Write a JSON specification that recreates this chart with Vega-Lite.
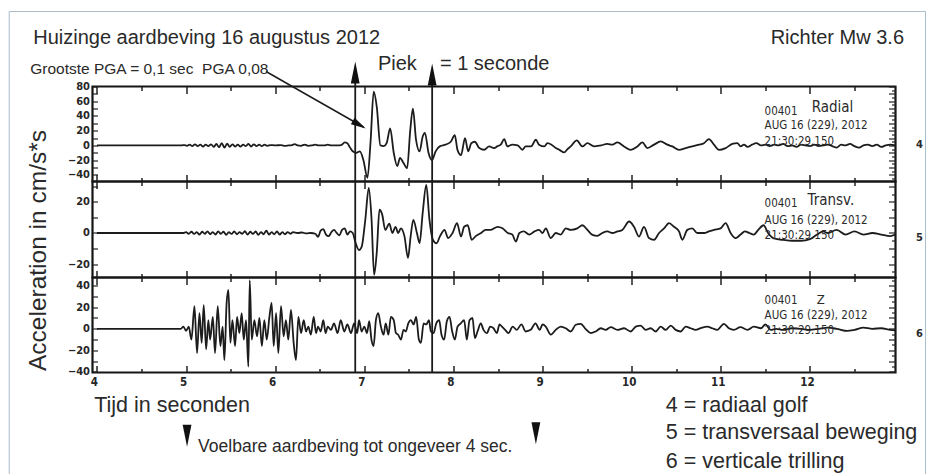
{
"$schema": "https://vega.github.io/schema/vega-lite/v6.json",
"padding": {"left": 7.5, "top": 9.5, "right": 0, "bottom": 0},
"background": "white",
"spacing": 0,
"bounds": "flush",
"config": {"view": {"stroke": "#151515", "strokeWidth": 2.2}, "font": "Liberation Sans, Arial, sans-serif"},
"datasets": {
"rad": [{"t":4.0,"v":0},{"t":4.95,"v":0},{"t":4.98,"v":0.5},{"t":5.01,"v":-0.5},{"t":5.04,"v":1},{"t":5.07,"v":-1},{"t":5.10,"v":1.5},{"t":5.13,"v":-1},{"t":5.16,"v":1},{"t":5.19,"v":-1.5},{"t":5.22,"v":1},{"t":5.25,"v":-1},{"t":5.28,"v":1.5},{"t":5.31,"v":-2},{"t":5.34,"v":2},{"t":5.37,"v":-2.5},{"t":5.40,"v":3},{"t":5.43,"v":-3},{"t":5.46,"v":2.5},{"t":5.49,"v":-2},{"t":5.52,"v":1.5},{"t":5.55,"v":-1.5},{"t":5.58,"v":1},{"t":5.61,"v":-1.5},{"t":5.64,"v":1},{"t":5.67,"v":-1},{"t":5.70,"v":2},{"t":5.73,"v":-1.5},{"t":5.76,"v":1.5},{"t":5.79,"v":-1},{"t":5.82,"v":1},{"t":5.85,"v":-1},{"t":5.88,"v":1},{"t":5.91,"v":-0.5},{"t":5.95,"v":0.5},{"t":6.0,"v":0},{"t":6.06,"v":0.5},{"t":6.10,"v":-0.5},{"t":6.15,"v":0},{"t":6.19,"v":0.5},{"t":6.22,"v":1.8},{"t":6.25,"v":0},{"t":6.29,"v":-0.5},{"t":6.33,"v":1.2},{"t":6.37,"v":-0.5},{"t":6.41,"v":0},{"t":6.45,"v":1},{"t":6.49,"v":0},{"t":6.55,"v":0},{"t":6.59,"v":1},{"t":6.63,"v":0},{"t":6.70,"v":0},{"t":6.74,"v":0.5},{"t":6.78,"v":4},{"t":6.81,"v":3},{"t":6.84,"v":-3},{"t":6.87,"v":-8},{"t":6.91,"v":-10},{"t":6.95,"v":-8},{"t":6.99,"v":-20},{"t":7.035,"v":-44},{"t":7.07,"v":5},{"t":7.105,"v":73},{"t":7.14,"v":52},{"t":7.18,"v":0},{"t":7.22,"v":-1},{"t":7.25,"v":3},{"t":7.29,"v":23},{"t":7.33,"v":-10},{"t":7.37,"v":-28},{"t":7.40,"v":-17},{"t":7.44,"v":-24},{"t":7.48,"v":-31},{"t":7.515,"v":20},{"t":7.545,"v":50},{"t":7.58,"v":8},{"t":7.62,"v":-8},{"t":7.655,"v":12},{"t":7.68,"v":17},{"t":7.72,"v":-10},{"t":7.76,"v":-20},{"t":7.80,"v":-8},{"t":7.85,"v":-1},{"t":7.91,"v":1},{"t":7.97,"v":5},{"t":8.015,"v":14},{"t":8.045,"v":-6},{"t":8.085,"v":-13},{"t":8.13,"v":10},{"t":8.165,"v":-8},{"t":8.20,"v":3},{"t":8.24,"v":5},{"t":8.29,"v":-3.6},{"t":8.345,"v":-5.9},{"t":8.40,"v":-1.4},{"t":8.455,"v":-3.6},{"t":8.495,"v":-1},{"t":8.53,"v":1},{"t":8.57,"v":8.6},{"t":8.605,"v":-1.4},{"t":8.66,"v":1},{"t":8.72,"v":0},{"t":8.775,"v":-5.9},{"t":8.81,"v":-1.4},{"t":8.87,"v":-1.4},{"t":8.925,"v":7.7},{"t":8.96,"v":1},{"t":9.02,"v":-1.4},{"t":9.055,"v":3},{"t":9.10,"v":1},{"t":9.148,"v":-3.6},{"t":9.19,"v":-6},{"t":9.242,"v":-9.5},{"t":9.28,"v":-5},{"t":9.316,"v":-1.4},{"t":9.384,"v":6.8},{"t":9.447,"v":-1.4},{"t":9.503,"v":3},{"t":9.578,"v":-1.4},{"t":9.653,"v":0},{"t":9.727,"v":2},{"t":9.783,"v":1},{"t":9.84,"v":4},{"t":9.914,"v":-1.4},{"t":9.989,"v":-6},{"t":10.064,"v":-1.4},{"t":10.12,"v":4},{"t":10.176,"v":-3.6},{"t":10.251,"v":1},{"t":10.325,"v":5.4},{"t":10.40,"v":1},{"t":10.456,"v":-1.4},{"t":10.531,"v":-6},{"t":10.606,"v":-3.6},{"t":10.68,"v":-1.4},{"t":10.755,"v":1},{"t":10.811,"v":3},{"t":10.867,"v":8.6},{"t":10.923,"v":1},{"t":10.979,"v":-6},{"t":11.054,"v":-3.6},{"t":11.129,"v":2},{"t":11.185,"v":3},{"t":11.222,"v":-1.4},{"t":11.26,"v":1},{"t":11.3,"v":-2},{"t":11.35,"v":1},{"t":11.4,"v":3},{"t":11.45,"v":0},{"t":11.5,"v":1},{"t":11.55,"v":-1},{"t":11.6,"v":1},{"t":11.65,"v":0},{"t":11.7,"v":2},{"t":11.75,"v":-1},{"t":11.8,"v":0},{"t":11.85,"v":-2},{"t":11.9,"v":1},{"t":11.95,"v":0},{"t":12.0,"v":-1},{"t":12.05,"v":1},{"t":12.1,"v":-1},{"t":12.15,"v":0},{"t":12.2,"v":1},{"t":12.25,"v":-1},{"t":12.3,"v":-3},{"t":12.35,"v":1},{"t":12.4,"v":0},{"t":12.45,"v":2},{"t":12.5,"v":-1},{"t":12.55,"v":-3},{"t":12.6,"v":0},{"t":12.65,"v":1},{"t":12.7,"v":-1},{"t":12.75,"v":1},{"t":12.8,"v":-2},{"t":12.85,"v":0},{"t":12.9,"v":1},{"t":12.96,"v":0}],
"tra": [{"t":4,"v":0},{"t":4.97,"v":0},{"t":5.0,"v":0.5},{"t":5.03,"v":-0.5},{"t":5.06,"v":0.8},{"t":5.09,"v":-0.6},{"t":5.12,"v":0.5},{"t":5.15,"v":-1},{"t":5.18,"v":0.8},{"t":5.21,"v":-0.5},{"t":5.24,"v":1},{"t":5.27,"v":-0.8},{"t":5.30,"v":0.6},{"t":5.33,"v":-1},{"t":5.36,"v":1},{"t":5.39,"v":-0.5},{"t":5.42,"v":0.8},{"t":5.45,"v":-1.2},{"t":5.48,"v":0.5},{"t":5.51,"v":-0.6},{"t":5.54,"v":1},{"t":5.57,"v":-0.8},{"t":5.60,"v":0.5},{"t":5.63,"v":-0.5},{"t":5.66,"v":1.2},{"t":5.69,"v":-1},{"t":5.72,"v":0.8},{"t":5.75,"v":-0.6},{"t":5.78,"v":1},{"t":5.81,"v":-1.2},{"t":5.84,"v":0.6},{"t":5.87,"v":-0.8},{"t":5.90,"v":1.5},{"t":5.93,"v":-1},{"t":5.96,"v":0.5},{"t":5.99,"v":-0.8},{"t":6.02,"v":1},{"t":6.05,"v":-1},{"t":6.08,"v":0.5},{"t":6.11,"v":-0.8},{"t":6.14,"v":0.6},{"t":6.17,"v":-0.5},{"t":6.20,"v":0.5},{"t":6.25,"v":0},{"t":6.30,"v":0.3},{"t":6.35,"v":-0.3},{"t":6.40,"v":0},{"t":6.45,"v":-0.5},{"t":6.48,"v":-2.5},{"t":6.51,"v":1.5},{"t":6.54,"v":2.5},{"t":6.57,"v":-1},{"t":6.60,"v":-2},{"t":6.63,"v":0.5},{"t":6.66,"v":2},{"t":6.69,"v":0},{"t":6.72,"v":-1.5},{"t":6.75,"v":2},{"t":6.78,"v":3},{"t":6.81,"v":-1},{"t":6.84,"v":1},{"t":6.87,"v":0},{"t":6.90,"v":-6},{"t":6.94,"v":-11},{"t":6.97,"v":-9},{"t":7.01,"v":8},{"t":7.05,"v":29},{"t":7.08,"v":10},{"t":7.11,"v":-27},{"t":7.14,"v":-12},{"t":7.17,"v":15},{"t":7.20,"v":12},{"t":7.235,"v":2},{"t":7.28,"v":6},{"t":7.315,"v":0},{"t":7.35,"v":4},{"t":7.38,"v":0},{"t":7.41,"v":3},{"t":7.45,"v":-2},{"t":7.49,"v":-16},{"t":7.52,"v":-2},{"t":7.55,"v":8.5},{"t":7.59,"v":0},{"t":7.62,"v":-6.5},{"t":7.655,"v":13},{"t":7.695,"v":31},{"t":7.73,"v":9},{"t":7.77,"v":-4.4},{"t":7.81,"v":-6.6},{"t":7.85,"v":-2},{"t":7.90,"v":2},{"t":7.94,"v":-3.3},{"t":7.99,"v":0},{"t":8.04,"v":6.3},{"t":8.085,"v":-2.3},{"t":8.12,"v":4},{"t":8.16,"v":5},{"t":8.205,"v":-4.4},{"t":8.25,"v":-2},{"t":8.31,"v":0},{"t":8.36,"v":2},{"t":8.42,"v":2},{"t":8.495,"v":4},{"t":8.55,"v":3},{"t":8.61,"v":0},{"t":8.66,"v":-1},{"t":8.70,"v":-5.5},{"t":8.74,"v":0},{"t":8.79,"v":1},{"t":8.85,"v":-1},{"t":8.91,"v":1},{"t":8.96,"v":2},{"t":9.0,"v":0},{"t":9.036,"v":3},{"t":9.092,"v":-3.3},{"t":9.148,"v":0},{"t":9.204,"v":-1},{"t":9.26,"v":3},{"t":9.316,"v":2},{"t":9.39,"v":3},{"t":9.447,"v":5},{"t":9.503,"v":2},{"t":9.56,"v":-1.2},{"t":9.615,"v":-1.8},{"t":9.67,"v":0},{"t":9.727,"v":1},{"t":9.783,"v":0},{"t":9.84,"v":1},{"t":9.895,"v":2},{"t":9.97,"v":7.4},{"t":10.026,"v":4},{"t":10.082,"v":-2.3},{"t":10.138,"v":4},{"t":10.194,"v":-3.3},{"t":10.251,"v":-4.4},{"t":10.307,"v":0},{"t":10.363,"v":3},{"t":10.419,"v":6.3},{"t":10.475,"v":4},{"t":10.531,"v":1},{"t":10.568,"v":-4.4},{"t":10.624,"v":2},{"t":10.68,"v":3},{"t":10.736,"v":0},{"t":10.811,"v":0},{"t":10.867,"v":1},{"t":10.923,"v":2},{"t":10.998,"v":3},{"t":11.054,"v":6.3},{"t":11.11,"v":0},{"t":11.166,"v":-3.3},{"t":11.222,"v":-1},{"t":11.27,"v":1},{"t":11.32,"v":0},{"t":11.37,"v":-1},{"t":11.42,"v":2},{"t":11.48,"v":5},{"t":11.53,"v":0},{"t":11.58,"v":-3},{"t":11.63,"v":-4},{"t":11.7,"v":-4.5},{"t":11.8,"v":-5},{"t":11.9,"v":-5},{"t":12.0,"v":-4},{"t":12.08,"v":-1},{"t":12.15,"v":1},{"t":12.2,"v":0},{"t":12.3,"v":2},{"t":12.4,"v":-1},{"t":12.5,"v":1},{"t":12.6,"v":-1},{"t":12.7,"v":0},{"t":12.8,"v":-1},{"t":12.9,"v":-2},{"t":12.96,"v":-1}],
"zz": [{"t":4,"v":0},{"t":4.94,"v":0},{"t":4.97,"v":2},{"t":5.00,"v":-2},{"t":5.03,"v":2},{"t":5.06,"v":-10},{"t":5.094,"v":21},{"t":5.123,"v":-22.5},{"t":5.15,"v":14.5},{"t":5.175,"v":-13},{"t":5.198,"v":22},{"t":5.225,"v":-19},{"t":5.25,"v":8},{"t":5.27,"v":-10},{"t":5.30,"v":11},{"t":5.325,"v":-22.5},{"t":5.355,"v":21},{"t":5.385,"v":-16},{"t":5.41,"v":2},{"t":5.43,"v":-29},{"t":5.455,"v":24},{"t":5.475,"v":36},{"t":5.497,"v":-13},{"t":5.52,"v":8},{"t":5.55,"v":-16},{"t":5.572,"v":11},{"t":5.598,"v":-4},{"t":5.624,"v":14.5},{"t":5.647,"v":-10},{"t":5.673,"v":8},{"t":5.699,"v":-35},{"t":5.714,"v":45},{"t":5.737,"v":-10},{"t":5.766,"v":8},{"t":5.796,"v":-7},{"t":5.823,"v":10},{"t":5.85,"v":-16},{"t":5.878,"v":8},{"t":5.905,"v":-10},{"t":5.935,"v":11},{"t":5.96,"v":24},{"t":5.983,"v":-16},{"t":6.01,"v":14.5},{"t":6.035,"v":-22.5},{"t":6.065,"v":21},{"t":6.095,"v":-7},{"t":6.12,"v":8},{"t":6.147,"v":-10},{"t":6.177,"v":17.6},{"t":6.207,"v":-13},{"t":6.233,"v":-29},{"t":6.26,"v":11},{"t":6.29,"v":-4},{"t":6.32,"v":8},{"t":6.346,"v":-2.5},{"t":6.372,"v":2},{"t":6.40,"v":-5.5},{"t":6.432,"v":11},{"t":6.458,"v":-4},{"t":6.48,"v":2},{"t":6.51,"v":-2.5},{"t":6.54,"v":8},{"t":6.565,"v":-4},{"t":6.59,"v":2},{"t":6.625,"v":-1},{"t":6.66,"v":5},{"t":6.70,"v":-4},{"t":6.735,"v":8},{"t":6.775,"v":-2.5},{"t":6.81,"v":4},{"t":6.85,"v":-4},{"t":6.885,"v":5},{"t":6.92,"v":-4},{"t":6.94,"v":8},{"t":6.97,"v":-2.5},{"t":7.00,"v":2},{"t":7.03,"v":-4},{"t":7.055,"v":7},{"t":7.08,"v":-10},{"t":7.104,"v":-16},{"t":7.13,"v":8},{"t":7.156,"v":14.5},{"t":7.186,"v":2},{"t":7.216,"v":-5.5},{"t":7.24,"v":5},{"t":7.27,"v":-5.5},{"t":7.298,"v":11},{"t":7.33,"v":8},{"t":7.355,"v":-4},{"t":7.38,"v":-5.5},{"t":7.41,"v":-10},{"t":7.44,"v":-1},{"t":7.466,"v":-2.5},{"t":7.493,"v":5},{"t":7.523,"v":8},{"t":7.553,"v":4},{"t":7.582,"v":11},{"t":7.612,"v":-10},{"t":7.635,"v":-13},{"t":7.665,"v":5},{"t":7.695,"v":4},{"t":7.725,"v":8},{"t":7.747,"v":-2.5},{"t":7.777,"v":-4},{"t":7.807,"v":5},{"t":7.84,"v":8},{"t":7.866,"v":-5.5},{"t":7.896,"v":-10},{"t":7.926,"v":7},{"t":7.956,"v":11},{"t":7.986,"v":-2.5},{"t":8.016,"v":-10},{"t":8.046,"v":2},{"t":8.083,"v":5},{"t":8.12,"v":8},{"t":8.15,"v":-10},{"t":8.18,"v":8},{"t":8.214,"v":10},{"t":8.24,"v":-8.6},{"t":8.27,"v":-2.5},{"t":8.307,"v":5},{"t":8.337,"v":-1},{"t":8.375,"v":-4},{"t":8.412,"v":2},{"t":8.45,"v":0.5},{"t":8.487,"v":-4},{"t":8.517,"v":4},{"t":8.544,"v":2},{"t":8.58,"v":-1},{"t":8.617,"v":-4},{"t":8.665,"v":2},{"t":8.71,"v":-1},{"t":8.763,"v":4},{"t":8.81,"v":-2.5},{"t":8.866,"v":-1},{"t":8.92,"v":5},{"t":8.968,"v":-1},{"t":9.0,"v":4},{"t":9.036,"v":2},{"t":9.092,"v":-5.5},{"t":9.148,"v":-1},{"t":9.204,"v":2},{"t":9.26,"v":0.5},{"t":9.316,"v":-2.5},{"t":9.372,"v":3.7},{"t":9.428,"v":4.6},{"t":9.484,"v":-0.3},{"t":9.54,"v":-4},{"t":9.596,"v":-2.5},{"t":9.653,"v":0.5},{"t":9.708,"v":-1},{"t":9.765,"v":1.5},{"t":9.84,"v":-1},{"t":9.914,"v":0.5},{"t":9.989,"v":-2.5},{"t":10.045,"v":2},{"t":10.101,"v":3},{"t":10.157,"v":-1},{"t":10.213,"v":0.5},{"t":10.27,"v":-2.5},{"t":10.325,"v":2},{"t":10.381,"v":-1},{"t":10.438,"v":3},{"t":10.494,"v":-1},{"t":10.55,"v":-2.5},{"t":10.606,"v":2},{"t":10.662,"v":0.5},{"t":10.718,"v":-1},{"t":10.774,"v":0.5},{"t":10.848,"v":2},{"t":10.904,"v":0.5},{"t":10.96,"v":-1},{"t":11.035,"v":4.6},{"t":11.09,"v":0.5},{"t":11.147,"v":-1},{"t":11.22,"v":1.5},{"t":11.3,"v":-1},{"t":11.37,"v":2},{"t":11.45,"v":0.5},{"t":11.5,"v":4},{"t":11.56,"v":-1},{"t":11.62,"v":0},{"t":11.7,"v":-1},{"t":11.8,"v":0.5},{"t":11.9,"v":0},{"t":12.0,"v":-1},{"t":12.1,"v":0},{"t":12.2,"v":1},{"t":12.3,"v":0},{"t":12.42,"v":-2},{"t":12.5,"v":-1},{"t":12.6,"v":1},{"t":12.7,"v":0},{"t":12.8,"v":0.5},{"t":12.9,"v":-1},{"t":12.96,"v":-1.5}],
"vlines": [{"t":6.898},{"t":7.761}]
},
"vconcat": [
{
"width": 803, "height": 95,
"resolve": {"axis": {"x": "independent", "y": "independent"}},
"layer": [
{"data": {"name": "rad"}, "mark": {"type": "line", "color": "#1c1c1c", "strokeWidth": 1.8, "strokeJoin": "round", "interpolate": "monotone"},
 "encoding": {
  "x": {"field": "t", "type": "quantitative", "scale": {"domain": [3.95, 12.96], "nice": false, "zero": false},
        "axis": {"orient": "top", "values": [4,4.5,5,5.5,6,6.5,7,7.5,8,8.5,9,9.5,10,10.5,11,11.5,12,12.5], "labels": false, "domain": false, "grid": false, "title": null, "tickColor": "#222", "tickWidth": 1.5, "tickSize": {"condition": {"test": "datum.value % 1 === 0", "value": -7}, "value": -4}}},
  "y": {"field": "v", "type": "quantitative", "scale": {"domain": [-49, 80], "nice": false, "zero": false},
        "axis": {"orient": "left", "values": [-40,-20,0,20,40,60,80], "ticks": false, "domain": false, "grid": false, "title": null, "labelPadding": 3, "labelFontSize": 11, "labelOverlap": false, "labelFlush": false, "labelFont": "DejaVu Sans Condensed, Liberation Sans Narrow, Liberation Sans, sans-serif", "labelFontWeight": "bold", "labelColor": "#262626"}}
 }},
{"data": {"name": "rad"}, "mark": {"type": "line", "opacity": 0},
 "encoding": {
  "x": {"field": "t", "type": "quantitative", "scale": {"domain": [3.95, 12.96], "nice": false, "zero": false},
        "axis": {"orient": "bottom", "values": [4,4.5,5,5.5,6,6.5,7,7.5,8,8.5,9,9.5,10,10.5,11,11.5,12,12.5], "labels": false, "domain": false, "grid": false, "title": null, "tickColor": "#222", "tickWidth": 1.5, "tickSize": {"condition": {"test": "datum.value % 1 === 0", "value": -7}, "value": -4}}},
  "y": {"field": "v", "type": "quantitative", "scale": {"domain": [-49, 80], "nice": false, "zero": false},
        "axis": {"orient": "right", "values": [-45,-40,-35,-30,-25,-20,-15,-10,-5,0,5,10,15,20,25,30,35,40,45,50,55,60,65,70,75,80], "labels": false, "domain": false, "grid": false, "title": null, "tickColor": "#222", "tickWidth": 1.2, "tickSize": {"condition": {"test": "datum.value % 10 === 0", "value": -7}, "value": -4}}}
 }},
{"data": {"name": "rad"}, "mark": {"type": "line", "opacity": 0},
 "encoding": {
  "x": {"field": "t", "type": "quantitative", "scale": {"domain": [3.95, 12.96], "nice": false, "zero": false}, "axis": null},
  "y": {"field": "v", "type": "quantitative", "scale": {"domain": [-49, 80], "nice": false, "zero": false},
        "axis": {"orient": "left", "values": [-40,-30,-20,-10,0,10,20,30,40,50,60,70,80], "labels": false, "domain": false, "grid": false, "title": null, "tickColor": "#222", "tickWidth": 1.2, "tickSize": -5}}
 }},
{"data": {"name": "vlines"}, "mark": {"type": "rule", "color": "#1c1c1c", "strokeWidth": 1.8},
 "encoding": {
  "x": {"field": "t", "type": "quantitative", "scale": {"domain": [3.95, 12.96], "nice": false, "zero": false}, "axis": null},
  "y": {"datum": -49, "type": "quantitative", "scale": {"domain": [-49, 80], "nice": false, "zero": false}, "axis": null},
  "y2": {"datum": 100}
 }},
{"data": {"values": [{"t": 6.898, "v": 99.0}, {"t": 7.761, "v": 96.3}]},
 "mark": {"type": "point", "shape": "M0,-1L0.4,1L-0.4,1Z", "size": 484, "filled": true, "color": "#111", "opacity": 1, "strokeWidth": 0},
 "encoding": {
  "x": {"field": "t", "type": "quantitative", "scale": {"domain": [3.95, 12.96], "nice": false, "zero": false}, "axis": null},
  "y": {"field": "v", "type": "quantitative", "scale": {"domain": [-49, 80], "nice": false, "zero": false}, "axis": null}
 }},
{"data": {"values": [{"t": 5.897, "v": 100.4, "t2": 6.99, "v2": 25}]},
 "mark": {"type": "rule", "color": "#1c1c1c", "strokeWidth": 1.5},
 "encoding": {
  "x": {"field": "t", "type": "quantitative", "scale": {"domain": [3.95, 12.96], "nice": false, "zero": false}, "axis": null},
  "x2": {"field": "t2"},
  "y": {"field": "v", "type": "quantitative", "scale": {"domain": [-49, 80], "nice": false, "zero": false}, "axis": null},
  "y2": {"field": "v2"}
 }},
{"data": {"values": [{"t": 6.943, "v": 28.0}]},
 "mark": {"type": "point", "shape": "M1,0L-1,-0.5L-1,0.5Z", "size": 225, "angle": 29.7, "filled": true, "color": "#111", "opacity": 1, "strokeWidth": 0},
 "encoding": {
  "x": {"field": "t", "type": "quantitative", "scale": {"domain": [3.95, 12.96], "nice": false, "zero": false}, "axis": null},
  "y": {"field": "v", "type": "quantitative", "scale": {"domain": [-49, 80], "nice": false, "zero": false}, "axis": null}
 }},
{"data": {"values": [{"t": 3.285, "v": 146.5, "s": "Huizinge aardbeving 16 augustus 2012"}, {"t": 11.559, "v": 146.5, "s": "Richter Mw 3.6"}, {"t": 7.153, "v": 111.2, "s": "Piek"}, {"t": 7.848, "v": 111.2, "s": "= 1 seconde"}]},
 "mark": {"type": "text", "align": "left", "baseline": "middle", "fontSize": 20, "color": "#2a2a2a", "font": "Liberation Sans, Arial, sans-serif"},
 "encoding": {
  "x": {"field": "t", "type": "quantitative", "scale": {"domain": [3.95, 12.96], "nice": false, "zero": false}, "axis": null},
  "y": {"field": "v", "type": "quantitative", "scale": {"domain": [-49, 80], "nice": false, "zero": false}, "axis": null},
  "text": {"field": "s"}
 }},
{"data": {"values": [{"t": 3.251, "v": 104.4, "s": "Grootste PGA = 0,1 sec\u00a0 PGA 0,08"}]},
 "mark": {"type": "text", "align": "left", "baseline": "middle", "fontSize": 15.5, "color": "#2a2a2a", "font": "Liberation Sans, Arial, sans-serif"},
 "encoding": {
  "x": {"field": "t", "type": "quantitative", "scale": {"domain": [3.95, 12.96], "nice": false, "zero": false}, "axis": null},
  "y": {"field": "v", "type": "quantitative", "scale": {"domain": [-49, 80], "nice": false, "zero": false}, "axis": null},
  "text": {"field": "s"}
 }},
{"data": {"values": [{"t": 11.491, "v": 46.0, "s": "00401"}, {"t": 11.491, "v": 25.7, "s": "AUG 16 (229), 2012"}, {"t": 11.491, "v": 5.3, "s": "21:30:29.150"}]},
 "mark": {"type": "text", "align": "left", "baseline": "middle", "fontSize": 11.5, "color": "#2a2a2a", "font": "DejaVu Sans Condensed, Liberation Sans Narrow, Liberation Sans, sans-serif"},
 "encoding": {
  "x": {"field": "t", "type": "quantitative", "scale": {"domain": [3.95, 12.96], "nice": false, "zero": false}, "axis": null},
  "y": {"field": "v", "type": "quantitative", "scale": {"domain": [-49, 80], "nice": false, "zero": false}, "axis": null},
  "text": {"field": "s"}
 }},
{"data": {"values": [{"t": 12.019, "v": 51.5, "s": "Radial"}]},
 "mark": {"type": "text", "align": "left", "baseline": "middle", "fontSize": 15, "color": "#2a2a2a", "font": "DejaVu Sans Condensed, Liberation Sans Narrow, Liberation Sans, sans-serif"},
 "encoding": {
  "x": {"field": "t", "type": "quantitative", "scale": {"domain": [3.95, 12.96], "nice": false, "zero": false}, "axis": null},
  "y": {"field": "v", "type": "quantitative", "scale": {"domain": [-49, 80], "nice": false, "zero": false}, "axis": null},
  "text": {"field": "s"}
 }},
{"data": {"values": [{"t": 13.229, "v": 1.2, "s": "4"}]},
 "mark": {"type": "text", "align": "center", "baseline": "middle", "fontSize": 11, "fontWeight": "bold", "color": "#2a2a2a", "font": "DejaVu Sans Condensed, Liberation Sans Narrow, Liberation Sans, sans-serif"},
 "encoding": {
  "x": {"field": "t", "type": "quantitative", "scale": {"domain": [3.95, 12.96], "nice": false, "zero": false}, "axis": null},
  "y": {"field": "v", "type": "quantitative", "scale": {"domain": [-49, 80], "nice": false, "zero": false}, "axis": null},
  "text": {"field": "s"}
 }},
{"data": {"values": [{"t": 3.0156, "v": 181.8, "t2": 13.297, "v2": -456.4}]},
 "mark": {"type": "rect", "fillOpacity": 0, "stroke": "#a9bccb", "strokeWidth": 1},
 "encoding": {
  "x": {"field": "t", "type": "quantitative", "scale": {"domain": [3.95, 12.96], "nice": false, "zero": false}, "axis": null},
  "x2": {"field": "t2"},
  "y": {"field": "v", "type": "quantitative", "scale": {"domain": [-49, 80], "nice": false, "zero": false}, "axis": null},
  "y2": {"field": "v2"}
 }}
]
},
{
"width": 803, "height": 96,
"resolve": {"axis": {"x": "independent", "y": "independent"}},
"layer": [
{"data": {"name": "tra"}, "mark": {"type": "line", "color": "#1c1c1c", "strokeWidth": 1.8, "strokeJoin": "round", "interpolate": "monotone"},
 "encoding": {
  "x": {"field": "t", "type": "quantitative", "scale": {"domain": [3.95, 12.96], "nice": false, "zero": false},
        "axis": {"orient": "top", "values": [4,4.5,5,5.5,6,6.5,7,7.5,8,8.5,9,9.5,10,10.5,11,11.5,12,12.5], "labels": false, "domain": false, "grid": false, "title": null, "tickColor": "#222", "tickWidth": 1.5, "tickSize": {"condition": {"test": "datum.value % 1 === 0", "value": -7}, "value": -4}}},
  "y": {"field": "v", "type": "quantitative", "scale": {"domain": [-28.7, 33.2], "nice": false, "zero": false},
        "axis": {"orient": "left", "values": [-20,0,20], "ticks": false, "domain": false, "grid": false, "title": null, "labelPadding": 3, "labelFontSize": 11, "labelOverlap": false, "labelFlush": false, "labelFont": "DejaVu Sans Condensed, Liberation Sans Narrow, Liberation Sans, sans-serif", "labelFontWeight": "bold", "labelColor": "#262626"}}
 }},
{"data": {"name": "tra"}, "mark": {"type": "line", "opacity": 0},
 "encoding": {
  "x": {"field": "t", "type": "quantitative", "scale": {"domain": [3.95, 12.96], "nice": false, "zero": false},
        "axis": {"orient": "bottom", "values": [4,4.5,5,5.5,6,6.5,7,7.5,8,8.5,9,9.5,10,10.5,11,11.5,12,12.5], "labels": false, "domain": false, "grid": false, "title": null, "tickColor": "#222", "tickWidth": 1.5, "tickSize": {"condition": {"test": "datum.value % 1 === 0", "value": -7}, "value": -4}}},
  "y": {"field": "v", "type": "quantitative", "scale": {"domain": [-28.7, 33.2], "nice": false, "zero": false},
        "axis": {"orient": "right", "values": [-25,-20,-15,-10,-5,0,5,10,15,20,25,30], "labels": false, "domain": false, "grid": false, "title": null, "tickColor": "#222", "tickWidth": 1.2, "tickSize": {"condition": {"test": "datum.value % 10 === 0", "value": -7}, "value": -4}}}
 }},
{"data": {"name": "tra"}, "mark": {"type": "line", "opacity": 0},
 "encoding": {
  "x": {"field": "t", "type": "quantitative", "scale": {"domain": [3.95, 12.96], "nice": false, "zero": false}, "axis": null},
  "y": {"field": "v", "type": "quantitative", "scale": {"domain": [-28.7, 33.2], "nice": false, "zero": false},
        "axis": {"orient": "left", "values": [-20,-10,0,10,20,30], "labels": false, "domain": false, "grid": false, "title": null, "tickColor": "#222", "tickWidth": 1.2, "tickSize": -5}}
 }},
{"data": {"name": "vlines"}, "mark": {"type": "rule", "color": "#1c1c1c", "strokeWidth": 1.8},
 "encoding": {
  "x": {"field": "t", "type": "quantitative", "scale": {"domain": [3.95, 12.96], "nice": false, "zero": false}, "axis": null}
 }},
{"data": {"values": [{"t": 11.491, "v": 19.0, "s": "00401"}, {"t": 11.491, "v": 8.05, "s": "AUG 16 (229), 2012"}, {"t": 11.491, "v": -2.26, "s": "21:30:29.150"}]},
 "mark": {"type": "text", "align": "left", "baseline": "middle", "fontSize": 11.5, "color": "#2a2a2a", "font": "DejaVu Sans Condensed, Liberation Sans Narrow, Liberation Sans, sans-serif"},
 "encoding": {
  "x": {"field": "t", "type": "quantitative", "scale": {"domain": [3.95, 12.96], "nice": false, "zero": false}, "axis": null},
  "y": {"field": "v", "type": "quantitative", "scale": {"domain": [-28.7, 33.2], "nice": false, "zero": false}, "axis": null},
  "text": {"field": "s"}
 }},
{"data": {"values": [{"t": 11.974, "v": 20.95, "s": "Transv."}]},
 "mark": {"type": "text", "align": "left", "baseline": "middle", "fontSize": 15, "color": "#2a2a2a", "font": "DejaVu Sans Condensed, Liberation Sans Narrow, Liberation Sans, sans-serif"},
 "encoding": {
  "x": {"field": "t", "type": "quantitative", "scale": {"domain": [3.95, 12.96], "nice": false, "zero": false}, "axis": null},
  "y": {"field": "v", "type": "quantitative", "scale": {"domain": [-28.7, 33.2], "nice": false, "zero": false}, "axis": null},
  "text": {"field": "s"}
 }},
{"data": {"values": [{"t": 13.229, "v": -3.55, "s": "5"}]},
 "mark": {"type": "text", "align": "center", "baseline": "middle", "fontSize": 11, "fontWeight": "bold", "color": "#2a2a2a", "font": "DejaVu Sans Condensed, Liberation Sans Narrow, Liberation Sans, sans-serif"},
 "encoding": {
  "x": {"field": "t", "type": "quantitative", "scale": {"domain": [3.95, 12.96], "nice": false, "zero": false}, "axis": null},
  "y": {"field": "v", "type": "quantitative", "scale": {"domain": [-28.7, 33.2], "nice": false, "zero": false}, "axis": null},
  "text": {"field": "s"}
 }},
{"data": {"values": [{"t": 3.352, "v": -11.3, "s": "Acceleration in cm/s*s"}]},
 "mark": {"type": "text", "align": "center", "baseline": "middle", "angle": 270, "fontSize": 24.5, "color": "#2a2a2a", "font": "Liberation Sans, Arial, sans-serif"},
 "encoding": {
  "x": {"field": "t", "type": "quantitative", "scale": {"domain": [3.95, 12.96], "nice": false, "zero": false}, "axis": null},
  "y": {"field": "v", "type": "quantitative", "scale": {"domain": [-28.7, 33.2], "nice": false, "zero": false}, "axis": null},
  "text": {"field": "s"}
 }}
]
},
{
"width": 803, "height": 95,
"resolve": {"axis": {"x": "independent", "y": "independent"}},
"layer": [
{"data": {"name": "zz"}, "mark": {"type": "line", "color": "#1c1c1c", "strokeWidth": 1.8, "strokeJoin": "round", "interpolate": "monotone"},
 "encoding": {
  "x": {"field": "t", "type": "quantitative", "scale": {"domain": [3.95, 12.96], "nice": false, "zero": false},
        "axis": {"orient": "top", "values": [4,4.5,5,5.5,6,6.5,7,7.5,8,8.5,9,9.5,10,10.5,11,11.5,12,12.5], "labels": false, "domain": false, "grid": false, "title": null, "tickColor": "#222", "tickWidth": 1.5, "tickSize": {"condition": {"test": "datum.value % 1 === 0", "value": -7}, "value": -4}}},
  "y": {"field": "v", "type": "quantitative", "scale": {"domain": [-40.5, 47.5], "nice": false, "zero": false},
        "axis": {"orient": "left", "values": [-40,-20,0,20,40], "ticks": false, "domain": false, "grid": false, "title": null, "labelPadding": 3, "labelFontSize": 11, "labelOverlap": false, "labelFlush": false, "labelFont": "DejaVu Sans Condensed, Liberation Sans Narrow, Liberation Sans, sans-serif", "labelFontWeight": "bold", "labelColor": "#262626"}}
 }},
{"data": {"name": "zz"}, "mark": {"type": "line", "opacity": 0},
 "encoding": {
  "x": {"field": "t", "type": "quantitative", "scale": {"domain": [3.95, 12.96], "nice": false, "zero": false},
        "axis": {"orient": "bottom", "values": [4,4.5,5,5.5,6,6.5,7,7.5,8,8.5,9,9.5,10,10.5,11,11.5,12,12.5], "labels": false, "domain": false, "grid": false, "title": null, "tickColor": "#222", "tickWidth": 1.5, "tickSize": {"condition": {"test": "datum.value % 1 === 0", "value": -7}, "value": -4}}},
  "y": {"field": "v", "type": "quantitative", "scale": {"domain": [-40.5, 47.5], "nice": false, "zero": false},
        "axis": {"orient": "right", "values": [-40,-35,-30,-25,-20,-15,-10,-5,0,5,10,15,20,25,30,35,40,45], "labels": false, "domain": false, "grid": false, "title": null, "tickColor": "#222", "tickWidth": 1.2, "tickSize": {"condition": {"test": "datum.value % 10 === 0", "value": -7}, "value": -4}}}
 }},
{"data": {"name": "zz"}, "mark": {"type": "line", "opacity": 0},
 "encoding": {
  "x": {"field": "t", "type": "quantitative", "scale": {"domain": [3.95, 12.96], "nice": false, "zero": false},
        "axis": {"orient": "bottom", "values": [4,5,6,7,8,9,10,11,12], "ticks": false, "domain": false, "grid": false, "title": null, "labelPadding": 4, "labelFontSize": 11.5, "labelFlush": false, "labelFont": "DejaVu Sans Condensed, Liberation Sans Narrow, Liberation Sans, sans-serif", "labelFontWeight": "bold", "labelColor": "#262626", "labelOffset": -3}},
  "y": {"field": "v", "type": "quantitative", "scale": {"domain": [-40.5, 47.5], "nice": false, "zero": false},
        "axis": {"orient": "left", "values": [-40,-30,-20,-10,0,10,20,30,40], "labels": false, "domain": false, "grid": false, "title": null, "tickColor": "#222", "tickWidth": 1.2, "tickSize": -5}}
 }},
{"data": {"name": "vlines"}, "mark": {"type": "rule", "color": "#1c1c1c", "strokeWidth": 1.8},
 "encoding": {
  "x": {"field": "t", "type": "quantitative", "scale": {"domain": [3.95, 12.96], "nice": false, "zero": false}, "axis": null}
 }},
{"data": {"values": [{"t": 11.491, "v": 25.3, "s": "00401"}, {"t": 11.491, "v": 11.4, "s": "AUG 16 (229), 2012"}, {"t": 11.491, "v": -1.6, "s": "21:30:29.150"}]},
 "mark": {"type": "text", "align": "left", "baseline": "middle", "fontSize": 11.5, "color": "#2a2a2a", "font": "DejaVu Sans Condensed, Liberation Sans Narrow, Liberation Sans, sans-serif"},
 "encoding": {
  "x": {"field": "t", "type": "quantitative", "scale": {"domain": [3.95, 12.96], "nice": false, "zero": false}, "axis": null},
  "y": {"field": "v", "type": "quantitative", "scale": {"domain": [-40.5, 47.5], "nice": false, "zero": false}, "axis": null},
  "text": {"field": "s"}
 }},
{"data": {"values": [{"t": 12.075, "v": 26.2, "s": "Z"}]},
 "mark": {"type": "text", "align": "left", "baseline": "middle", "fontSize": 13, "color": "#2a2a2a", "font": "DejaVu Sans Condensed, Liberation Sans Narrow, Liberation Sans, sans-serif"},
 "encoding": {
  "x": {"field": "t", "type": "quantitative", "scale": {"domain": [3.95, 12.96], "nice": false, "zero": false}, "axis": null},
  "y": {"field": "v", "type": "quantitative", "scale": {"domain": [-40.5, 47.5], "nice": false, "zero": false}, "axis": null},
  "text": {"field": "s"}
 }},
{"data": {"values": [{"t": 13.229, "v": -4.4, "s": "6"}]},
 "mark": {"type": "text", "align": "center", "baseline": "middle", "fontSize": 11, "fontWeight": "bold", "color": "#2a2a2a", "font": "DejaVu Sans Condensed, Liberation Sans Narrow, Liberation Sans, sans-serif"},
 "encoding": {
  "x": {"field": "t", "type": "quantitative", "scale": {"domain": [3.95, 12.96], "nice": false, "zero": false}, "axis": null},
  "y": {"field": "v", "type": "quantitative", "scale": {"domain": [-40.5, 47.5], "nice": false, "zero": false}, "axis": null},
  "text": {"field": "s"}
 }},
{"data": {"values": [{"t": 3.969, "v": -71.1, "s": "Tijd in seconden"}, {"t": 10.382, "v": -71.1, "s": "4 = radiaal golf"}, {"t": 10.382, "v": -97.0, "s": "5 = transversaal beweging"}, {"t": 10.382, "v": -123.0, "s": "6 = verticale trilling"}]},
 "mark": {"type": "text", "align": "left", "baseline": "middle", "fontSize": 21.5, "color": "#2a2a2a", "font": "Liberation Sans, Arial, sans-serif"},
 "encoding": {
  "x": {"field": "t", "type": "quantitative", "scale": {"domain": [3.95, 12.96], "nice": false, "zero": false}, "axis": null},
  "y": {"field": "v", "type": "quantitative", "scale": {"domain": [-40.5, 47.5], "nice": false, "zero": false}, "axis": null},
  "text": {"field": "s"}
 }},
{"data": {"values": [{"t": 5.135, "v": -109.1, "s": "Voelbare aardbeving tot ongeveer 4 sec."}]},
 "mark": {"type": "text", "align": "left", "baseline": "middle", "fontSize": 17.5, "color": "#2a2a2a", "font": "Liberation Sans, Arial, sans-serif"},
 "encoding": {
  "x": {"field": "t", "type": "quantitative", "scale": {"domain": [3.95, 12.96], "nice": false, "zero": false}, "axis": null},
  "y": {"field": "v", "type": "quantitative", "scale": {"domain": [-40.5, 47.5], "nice": false, "zero": false}, "axis": null},
  "text": {"field": "s"}
 }},
{"data": {"values": [{"t": 5.011, "v": -99.2}, {"t": 8.925, "v": -96.7}]},
 "mark": {"type": "point", "shape": "M0,1L0.4,-1L-0.4,-1Z", "size": 484, "filled": true, "color": "#111", "opacity": 1, "strokeWidth": 0},
 "encoding": {
  "x": {"field": "t", "type": "quantitative", "scale": {"domain": [3.95, 12.96], "nice": false, "zero": false}, "axis": null},
  "y": {"field": "v", "type": "quantitative", "scale": {"domain": [-40.5, 47.5], "nice": false, "zero": false}, "axis": null}
 }}
]
}
]
}
